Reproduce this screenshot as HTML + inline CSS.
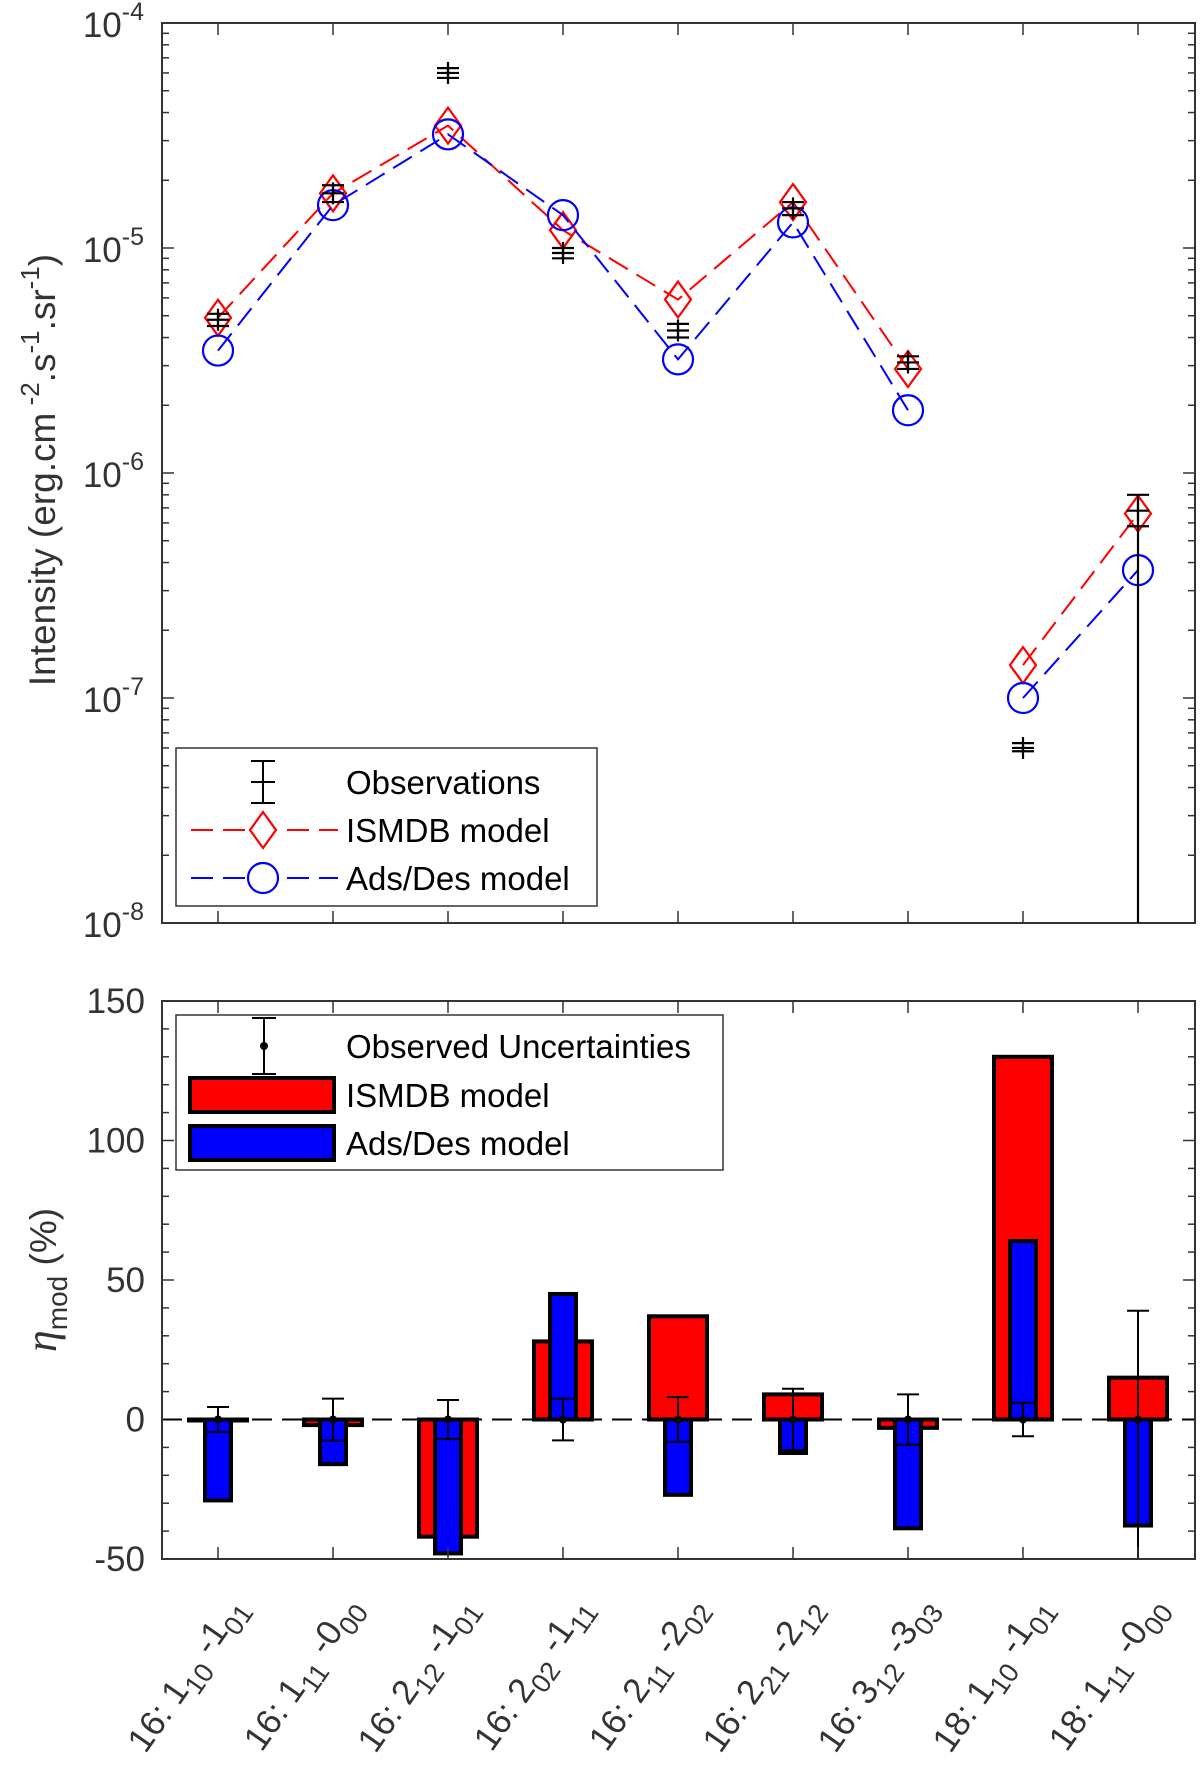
<!DOCTYPE html>
<html><head><meta charset="utf-8">
<style>
html,body{margin:0;padding:0;background:#fff;}
svg{display:block;font-family:"Liberation Sans",sans-serif;}
</style></head>
<body>
<svg id="fig" width="1200" height="1767" viewBox="0 0 1200 1767" xmlns="http://www.w3.org/2000/svg"></svg>
<script>
const categories = ["1","2","3","4","5","6","7","8","9"];
const obsVal  = [4.8e-6,1.75e-5,6.0e-5,9.5e-6,4.3e-6,1.5e-5,3.1e-6,6.0e-8,6.8e-7];
const obsLow  = [4.5e-6,1.6e-5,5.7e-5,9.0e-6,4.0e-6,1.4e-5,2.9e-6,5.8e-8,1e-9];
const obsHigh = [5.1e-6,1.9e-5,6.3e-5,1.0e-5,4.6e-6,1.6e-5,3.3e-6,6.3e-8,8.0e-7];
const ismdbI  = [4.9e-6,1.75e-5,3.5e-5,1.2e-5,5.9e-6,1.6e-5,2.9e-6,1.4e-7,6.6e-7];
const adsI    = [3.5e-6,1.55e-5,3.2e-5,1.4e-5,3.2e-6,1.3e-5,1.9e-6,1.0e-7,3.7e-7];
const ismdbEta = [0,-2,-42,28,37,9,-3,130,15];
const adsEta   = [-29,-16,-48,45,-27,-12,-39,64,-38];
const errUp    = [4.5,7.5,7,7.5,8,11,9,6,39];
const errDown  = [4.5,7.5,7,7.5,8,11,9,6,60];
const topTicks = [-4,-5,-6,-7,-8];
const botTicks = [150,100,50,0,-50];
const xLabels = [["1","10","1","01"],["1","11","0","00"],["2","12","1","01"],["2","02","1","11"],["2","11","2","02"],["2","21","2","12"],["3","12","3","03"],["1","10","1","01"],["1","11","0","00"]];
const isotopes = ["16","16","16","16","16","16","16","18","18"];

const NS="http://www.w3.org/2000/svg";
const svg=document.getElementById('fig');
function el(tag,attrs,parent){const e=document.createElementNS(NS,tag);for(const k in attrs)e.setAttribute(k,attrs[k]);(parent||svg).appendChild(e);return e;}
const L=162,R=1195;
const X=i=>218+i*115;
const T1=23,B1=923;
const yLog=v=>T1+(-4-Math.log10(v))*225;
const T2=1001,B2=1559;
const yLin=v=>T2+(150-v)*(B2-T2)/200;

const topG=el('g',{});


const clip=el('clipPath',{id:'c1'},topG);el('rect',{x:L,y:T1,width:R-L,height:B1-T1},clip);
const clip2=el('clipPath',{id:'c2'},svg);el('rect',{x:L,y:T2,width:R-L,height:B2-T2},clip2);
for(let d=-8;d<-4;d++){for(let m=1;m<10;m++){const y=yLog(m*Math.pow(10,d));const len=m===1?12:7;
 el('line',{x1:L,y1:y,x2:L+len,y2:y,stroke:'#333','stroke-width':1.5},topG);el('line',{x1:R,y1:y,x2:R-len,y2:y,stroke:'#333','stroke-width':1.5},topG);}}
topTicks.forEach(t=>{const tx=el('text',{x:144,y:yLog(Math.pow(10,t))+14,'text-anchor':'end','font-size':35,fill:'#333'},topG);
 
 
 tx.innerHTML='10<tspan dy="-17" font-size="25">'+t+'</tspan>';});
categories.forEach((c,i)=>{el('line',{x1:X(i),y1:B1,x2:X(i),y2:B1-12,stroke:'#333','stroke-width':1.5},topG);el('line',{x1:X(i),y1:T1,x2:X(i),y2:T1+12,stroke:'#333','stroke-width':1.5},topG);});
el('rect',{x:L,y:T1,width:R-L,height:B1-T1,fill:'none',stroke:'#333','stroke-width':2},topG);
const ylab=el('text',{transform:'translate(55,470) rotate(-90)','text-anchor':'middle','font-size':37,fill:'#333'},topG);


ylab.innerHTML='Intensity (erg.cm<tspan dy="-16" font-size="26"> -2</tspan><tspan dy="16">.s</tspan><tspan dy="-16" font-size="26">-1</tspan><tspan dy="16">.sr</tspan><tspan dy="-16" font-size="26">-1</tspan><tspan dy="16">)</tspan>';
const gd=el('g',{'clip-path':'url(#c1)'},topG);
function series(vals,color,name,marker){
 const g=el('g',{},gd);
 
 
 el('polyline',{points:vals.slice(0,7).map((v,i)=>X(i)+','+yLog(v)).join(' '),fill:'none',stroke:color,'stroke-width':2,'stroke-dasharray':'22,10'},g);
 el('polyline',{points:vals.slice(7).map((v,i)=>X(i+7)+','+yLog(v)).join(' '),fill:'none',stroke:color,'stroke-width':2,'stroke-dasharray':'22,10'},g);
 vals.forEach((v,i)=>{const x=X(i),y=yLog(v);let m;
  if(marker==='d')m=el('polygon',{points:`${x},${y-18} ${x+13},${y} ${x},${y+18} ${x-13},${y}`,fill:'none',stroke:color,'stroke-width':2.2},g);
  else m=el('circle',{cx:x,cy:y,r:15,fill:'none',stroke:color,'stroke-width':2.2},g);
  
  });
}
series(ismdbI,'#f00','ismdb-series','d');
series(adsI,'#00f','adsdes-series','c');
const og=el('g',{},gd);


obsVal.forEach((v,i)=>{const x=X(i);const yl=yLog(obsLow[i]),yh=yLog(obsHigh[i]),y=yLog(v);
 const e=el('g',{},og);
 
 
 el('line',{x1:x,y1:yl,x2:x,y2:yh,stroke:'#000','stroke-width':2.2},e);
 el('line',{x1:x-11,y1:yh,x2:x+11,y2:yh,stroke:'#000','stroke-width':2.2},e);
 if(obsLow[i]>1e-8)el('line',{x1:x-11,y1:yl,x2:x+11,y2:yl,stroke:'#000','stroke-width':2.2},e);
 else el('line',{x1:x-11,y1:yLog(5.8e-7),x2:x+11,y2:yLog(5.8e-7),stroke:'#000','stroke-width':2.2},e);
 el('line',{x1:x-11,y1:y,x2:x+11,y2:y,stroke:'#000','stroke-width':2.2},e);
 el('line',{x1:x,y1:y-11,x2:x,y2:y+11,stroke:'#000','stroke-width':2.2},e);});
const lg=el('g',{},topG);


el('rect',{x:176,y:748,width:421,height:158,fill:'#fff',stroke:'#333','stroke-width':1.5},lg);
[['Observations',782],['ISMDB model',830],['Ads/Des model',878]].forEach((d,k)=>{
 const t=el('text',{x:346,y:d[1]+12,'font-size':33,fill:'#000'},lg);t.textContent=d[0];
 
 
 const cx=263,cy=d[1];
 if(k===0){el('line',{x1:cx,y1:cy-21,x2:cx,y2:cy+21,stroke:'#000','stroke-width':2},lg);
  [-21,0,21].forEach(o=>el('line',{x1:cx-12,y1:cy+o,x2:cx+12,y2:cy+o,stroke:'#000','stroke-width':2},lg));}
 else{const c=k===1?'#f00':'#00f';el('line',{x1:191,y1:cy,x2:338,y2:cy,stroke:c,'stroke-width':2,'stroke-dasharray':'22,10'},lg);
  if(k===1)el('polygon',{points:`${cx},${cy-18} ${cx+13},${cy} ${cx},${cy+18} ${cx-13},${cy}`,fill:'#fff',stroke:c,'stroke-width':2.2},lg);
  else el('circle',{cx:cx,cy:cy,r:15,fill:'#fff',stroke:c,'stroke-width':2.2},lg);}});

const botG=el('g',{});


for(let v=-50;v<=150;v+=10){const y=yLin(v);const len=v%50===0?12:7;
 el('line',{x1:L,y1:y,x2:L+len,y2:y,stroke:'#333','stroke-width':1.5},botG);el('line',{x1:R,y1:y,x2:R-len,y2:y,stroke:'#333','stroke-width':1.5},botG);}
botTicks.forEach(t=>{const tx=el('text',{x:145,y:yLin(t)+12,'text-anchor':'end','font-size':35,fill:'#333'},botG);tx.textContent=t;
 
 });
const bd=el('g',{'clip-path':'url(#c2)'},botG);
el('line',{x1:L,y1:yLin(0),x2:R,y2:yLin(0),stroke:'#000','stroke-width':2,'stroke-dasharray':'20,10'},bd);
categories.forEach((c,i)=>{const x=X(i);
 const y0=yLin(0),yr=yLin(ismdbEta[i]);
 const r=el('rect',{x:x-29,y:Math.min(y0,yr),width:58,height:Math.max(Math.abs(yr-y0),1),fill:'#f00',stroke:'#000','stroke-width':4},bd);
 
 
 const yb=yLin(adsEta[i]);
 const b=el('rect',{x:x-13,y:Math.min(y0,yb),width:26,height:Math.abs(yb-y0),fill:'#00f',stroke:'#000','stroke-width':4},bd);
 
 });
categories.forEach((c,i)=>{const x=X(i);const e=el('g',{},bd);
 
 
 const yu=yLin(errUp[i]),yd=yLin(-errDown[i]);
 el('line',{x1:x,y1:yu,x2:x,y2:yd,stroke:'#000','stroke-width':2},e);
 el('line',{x1:x-11,y1:yu,x2:x+11,y2:yu,stroke:'#000','stroke-width':2},e);
 el('line',{x1:x-11,y1:yd,x2:x+11,y2:yd,stroke:'#000','stroke-width':2},e);
 el('circle',{cx:x,cy:yLin(0),r:4,fill:'#000'},e);});
categories.forEach((c,i)=>{el('line',{x1:X(i),y1:B2,x2:X(i),y2:B2-12,stroke:'#333','stroke-width':1.5},botG);el('line',{x1:X(i),y1:T2,x2:X(i),y2:T2+12,stroke:'#333','stroke-width':1.5},botG);
 const l=xLabels[i];const t=el('text',{transform:`translate(${X(i)+30},${1608}) rotate(-55)`,'text-anchor':'end','font-size':35,fill:'#333'},botG);
 
 
 t.innerHTML=`${isotopes[i]}: ${l[0]}<tspan dy="10" font-size="27">${l[1]}</tspan><tspan dy="-12"> -${l[2]}</tspan><tspan dy="10" font-size="27">${l[3]}</tspan>`;});
el('rect',{x:L,y:T2,width:R-L,height:B2-T2,fill:'none',stroke:'#333','stroke-width':2},botG);
const ylab2=el('text',{transform:'translate(56,1280) rotate(-90)','text-anchor':'middle','font-size':37,fill:'#333'},botG);


ylab2.innerHTML='<tspan font-family="Liberation Serif" font-style="italic" font-size="44">η</tspan><tspan dy="11" font-size="28">mod</tspan><tspan dy="-11"> (%)</tspan>';
const lg2=el('g',{},botG);


el('rect',{x:176,y:1015,width:547,height:155,fill:'#fff',stroke:'#333','stroke-width':1.5},lg2);
[['Observed Uncertainties',1046],['ISMDB model',1095],['Ads/Des model',1143]].forEach((d,k)=>{
 const t=el('text',{x:346,y:d[1]+12,'font-size':33,fill:'#000'},lg2);t.textContent=d[0];
 
 
 const cy=d[1];
 if(k===0){const cx=264;el('line',{x1:cx,y1:cy-28,x2:cx,y2:cy+28,stroke:'#000','stroke-width':2},lg2);
  el('line',{x1:cx-12,y1:cy-28,x2:cx+12,y2:cy-28,stroke:'#000','stroke-width':2},lg2);
  el('line',{x1:cx-12,y1:cy+28,x2:cx+12,y2:cy+28,stroke:'#000','stroke-width':2},lg2);
  el('circle',{cx:cx,cy:cy,r:4,fill:'#000'},lg2);}
 else el('rect',{x:190,y:cy-17,width:144,height:34,fill:k===1?'#f00':'#00f',stroke:'#000','stroke-width':4},lg2);});
</script>
</body></html>
